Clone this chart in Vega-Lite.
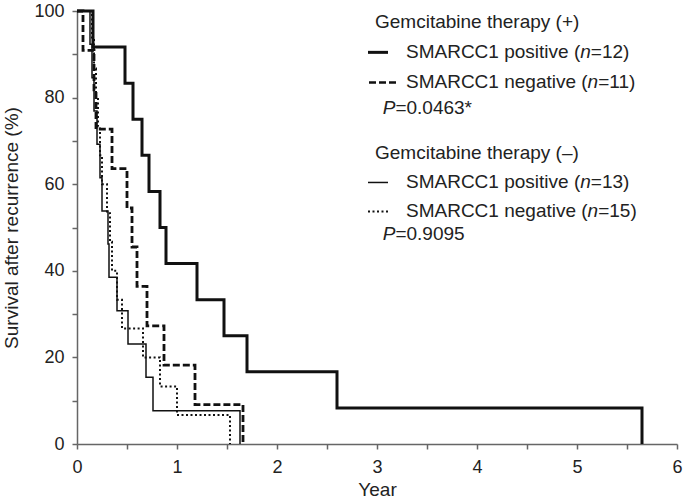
{
  "$schema": "https://vega.github.io/schema/vega-lite/v6.json",
  "width": 600,
  "height": 433,
  "autosize": {"type": "none"},
  "padding": {"left": 77, "top": 11, "right": 6, "bottom": 60},
  "background": "white",
  "config": {
    "view": {"stroke": null},
    "axis": {
      "grid": false,
      "domainColor": "#666",
      "domainWidth": 1.5,
      "tickColor": "#666",
      "tickWidth": 1.5,
      "tickSize": 5,
      "labelFont": "Liberation Sans",
      "labelFontSize": 18,
      "labelColor": "#222",
      "titleFont": "Liberation Sans",
      "titleFontSize": 19,
      "titleFontWeight": "normal",
      "titleColor": "#222"
    },
    "text": {"font": "Liberation Sans", "fontSize": 19, "color": "#222", "align": "left", "baseline": "middle"},
    "rule": {"color": "#111"}
  },
  "datasets": {
    "km": [
      {"g": "A", "t": 0, "s": 100}, {"g": "A", "t": 0.16, "s": 91.7}, {"g": "A", "t": 0.48, "s": 83.3},
      {"g": "A", "t": 0.56, "s": 75}, {"g": "A", "t": 0.65, "s": 66.7}, {"g": "A", "t": 0.72, "s": 58.3},
      {"g": "A", "t": 0.83, "s": 50}, {"g": "A", "t": 0.89, "s": 41.7}, {"g": "A", "t": 1.2, "s": 33.3},
      {"g": "A", "t": 1.47, "s": 25}, {"g": "A", "t": 1.7, "s": 16.7}, {"g": "A", "t": 2.6, "s": 8.3},
      {"g": "A", "t": 5.65, "s": 0},
      {"g": "B", "t": 0, "s": 100}, {"g": "B", "t": 0.06, "s": 90.9}, {"g": "B", "t": 0.17, "s": 81.8},
      {"g": "B", "t": 0.19, "s": 72.7}, {"g": "B", "t": 0.35, "s": 63.6}, {"g": "B", "t": 0.5, "s": 54.5},
      {"g": "B", "t": 0.55, "s": 45.5}, {"g": "B", "t": 0.6, "s": 36.4}, {"g": "B", "t": 0.7, "s": 27.3},
      {"g": "B", "t": 0.87, "s": 18.2}, {"g": "B", "t": 1.18, "s": 9.1}, {"g": "B", "t": 1.66, "s": 0},
      {"g": "C", "t": 0, "s": 100}, {"g": "C", "t": 0.13, "s": 92.3}, {"g": "C", "t": 0.15, "s": 84.6},
      {"g": "C", "t": 0.17, "s": 76.9}, {"g": "C", "t": 0.2, "s": 69.2}, {"g": "C", "t": 0.23, "s": 61.5},
      {"g": "C", "t": 0.25, "s": 53.8}, {"g": "C", "t": 0.31, "s": 46.2}, {"g": "C", "t": 0.32, "s": 38.5},
      {"g": "C", "t": 0.4, "s": 30.8}, {"g": "C", "t": 0.51, "s": 23.1}, {"g": "C", "t": 0.69, "s": 15.4},
      {"g": "C", "t": 0.76, "s": 7.7}, {"g": "C", "t": 1.63, "s": 0},
      {"g": "D", "t": 0, "s": 100}, {"g": "D", "t": 0.15, "s": 93.3}, {"g": "D", "t": 0.17, "s": 86.7},
      {"g": "D", "t": 0.19, "s": 80}, {"g": "D", "t": 0.21, "s": 73.3}, {"g": "D", "t": 0.23, "s": 66.7},
      {"g": "D", "t": 0.25, "s": 60}, {"g": "D", "t": 0.3, "s": 53.3}, {"g": "D", "t": 0.33, "s": 46.7},
      {"g": "D", "t": 0.35, "s": 40}, {"g": "D", "t": 0.4, "s": 33.3}, {"g": "D", "t": 0.45, "s": 26.7},
      {"g": "D", "t": 0.66, "s": 20}, {"g": "D", "t": 0.83, "s": 13.3}, {"g": "D", "t": 1.0, "s": 6.7},
      {"g": "D", "t": 1.53, "s": 0}
    ]
  },
  "layer": [
    {
      "data": {"name": "km"},
      "transform": [{"filter": "datum.g == 'C'"}],
      "mark": {"type": "line", "interpolate": "step-after", "color": "#111", "strokeWidth": 1.5},
      "encoding": {
        "x": {
          "field": "t", "type": "quantitative", "title": "Year",
          "scale": {"domain": [0, 6], "nice": false},
          "axis": {
            "values": [0, 0.5, 1, 1.5, 2, 2.5, 3, 3.5, 4, 4.5, 5, 5.5, 6],
            "labelExpr": "datum.value % 1 == 0 ? format(datum.value, 'd') : ''",
            "labelPadding": 9, "titlePadding": 4, "labelFlush": false
          }
        },
        "y": {
          "field": "s", "type": "quantitative", "title": "Survival after recurrence (%)",
          "scale": {"domain": [0, 100], "nice": false},
          "axis": {
            "values": [0, 10, 20, 30, 40, 50, 60, 70, 80, 90, 100],
            "labelExpr": "datum.value % 20 == 0 ? format(datum.value, 'd') : ''",
            "labelPadding": 8, "titlePadding": 12, "labelFlush": false
          }
        }
      }
    },
    {
      "data": {"name": "km"},
      "transform": [{"filter": "datum.g == 'D'"}],
      "mark": {"type": "line", "interpolate": "step-after", "color": "#111", "strokeWidth": 2, "strokeDash": [2, 2.5]},
      "encoding": {"x": {"field": "t", "type": "quantitative"}, "y": {"field": "s", "type": "quantitative"}}
    },
    {
      "data": {"name": "km"},
      "transform": [{"filter": "datum.g == 'B'"}],
      "mark": {"type": "line", "interpolate": "step-after", "color": "#111", "strokeWidth": 2.8, "strokeDash": [7, 3]},
      "encoding": {"x": {"field": "t", "type": "quantitative"}, "y": {"field": "s", "type": "quantitative"}}
    },
    {
      "data": {"name": "km"},
      "transform": [{"filter": "datum.g == 'A'"}],
      "mark": {"type": "line", "interpolate": "step-after", "color": "#111", "strokeWidth": 3},
      "encoding": {"x": {"field": "t", "type": "quantitative"}, "y": {"field": "s", "type": "quantitative"}}
    },
    {"data": {"values": [{}]}, "mark": {"type": "text", "text": "Gemcitabine therapy (+)"},
     "encoding": {"x": {"datum": 2.98, "type": "quantitative"}, "y": {"datum": 97.4, "type": "quantitative"}}},
    {"data": {"values": [{}]}, "mark": {"type": "rule", "strokeWidth": 3},
     "encoding": {"x": {"datum": 2.91, "type": "quantitative"}, "x2": {"datum": 3.11}, "y": {"datum": 90.45, "type": "quantitative"}}},
    {"data": {"values": [{}]}, "mark": {"type": "text", "text": "SMARCC1 positive ("},
     "encoding": {"x": {"datum": 3.29, "type": "quantitative"}, "y": {"datum": 90.45, "type": "quantitative"}}},
    {"data": {"values": [{}]}, "mark": {"type": "text", "text": "n", "fontStyle": "italic"},
     "encoding": {"x": {"datum": 5.032, "type": "quantitative"}, "y": {"datum": 90.45, "type": "quantitative"}}},
    {"data": {"values": [{}]}, "mark": {"type": "text", "text": "=12)"},
     "encoding": {"x": {"datum": 5.138, "type": "quantitative"}, "y": {"datum": 90.45, "type": "quantitative"}}},
    {"data": {"values": [{}]}, "mark": {"type": "rule", "strokeWidth": 2.5, "strokeDash": [7, 3]},
     "encoding": {"x": {"datum": 2.92, "type": "quantitative"}, "x2": {"datum": 3.2}, "y": {"datum": 83.5, "type": "quantitative"}}},
    {"data": {"values": [{}]}, "mark": {"type": "text", "text": "SMARCC1 negative ("},
     "encoding": {"x": {"datum": 3.29, "type": "quantitative"}, "y": {"datum": 83.5, "type": "quantitative"}}},
    {"data": {"values": [{}]}, "mark": {"type": "text", "text": "n", "fontStyle": "italic"},
     "encoding": {"x": {"datum": 5.106, "type": "quantitative"}, "y": {"datum": 83.5, "type": "quantitative"}}},
    {"data": {"values": [{}]}, "mark": {"type": "text", "text": "=11)"},
     "encoding": {"x": {"datum": 5.212, "type": "quantitative"}, "y": {"datum": 83.5, "type": "quantitative"}}},
    {"data": {"values": [{}]}, "mark": {"type": "text", "text": "P", "fontStyle": "italic"},
     "encoding": {"x": {"datum": 3.057, "type": "quantitative"}, "y": {"datum": 77.5, "type": "quantitative"}}},
    {"data": {"values": [{}]}, "mark": {"type": "text", "text": "=0.0463*"},
     "encoding": {"x": {"datum": 3.184, "type": "quantitative"}, "y": {"datum": 77.5, "type": "quantitative"}}},
    {"data": {"values": [{}]}, "mark": {"type": "text", "text": "Gemcitabine therapy (–)"},
     "encoding": {"x": {"datum": 2.98, "type": "quantitative"}, "y": {"datum": 67.3, "type": "quantitative"}}},
    {"data": {"values": [{}]}, "mark": {"type": "rule", "strokeWidth": 1.5},
     "encoding": {"x": {"datum": 2.91, "type": "quantitative"}, "x2": {"datum": 3.11}, "y": {"datum": 60.4, "type": "quantitative"}}},
    {"data": {"values": [{}]}, "mark": {"type": "text", "text": "SMARCC1 positive ("},
     "encoding": {"x": {"datum": 3.29, "type": "quantitative"}, "y": {"datum": 60.4, "type": "quantitative"}}},
    {"data": {"values": [{}]}, "mark": {"type": "text", "text": "n", "fontStyle": "italic"},
     "encoding": {"x": {"datum": 5.032, "type": "quantitative"}, "y": {"datum": 60.4, "type": "quantitative"}}},
    {"data": {"values": [{}]}, "mark": {"type": "text", "text": "=13)"},
     "encoding": {"x": {"datum": 5.138, "type": "quantitative"}, "y": {"datum": 60.4, "type": "quantitative"}}},
    {"data": {"values": [{}]}, "mark": {"type": "rule", "strokeWidth": 2, "strokeDash": [2, 2.5]},
     "encoding": {"x": {"datum": 2.91, "type": "quantitative"}, "x2": {"datum": 3.13}, "y": {"datum": 53.7, "type": "quantitative"}}},
    {"data": {"values": [{}]}, "mark": {"type": "text", "text": "SMARCC1 negative ("},
     "encoding": {"x": {"datum": 3.29, "type": "quantitative"}, "y": {"datum": 53.7, "type": "quantitative"}}},
    {"data": {"values": [{}]}, "mark": {"type": "text", "text": "n", "fontStyle": "italic"},
     "encoding": {"x": {"datum": 5.106, "type": "quantitative"}, "y": {"datum": 53.7, "type": "quantitative"}}},
    {"data": {"values": [{}]}, "mark": {"type": "text", "text": "=15)"},
     "encoding": {"x": {"datum": 5.212, "type": "quantitative"}, "y": {"datum": 53.7, "type": "quantitative"}}},
    {"data": {"values": [{}]}, "mark": {"type": "text", "text": "P", "fontStyle": "italic"},
     "encoding": {"x": {"datum": 3.057, "type": "quantitative"}, "y": {"datum": 48.4, "type": "quantitative"}}},
    {"data": {"values": [{}]}, "mark": {"type": "text", "text": "=0.9095"},
     "encoding": {"x": {"datum": 3.184, "type": "quantitative"}, "y": {"datum": 48.4, "type": "quantitative"}}}
  ]
}
